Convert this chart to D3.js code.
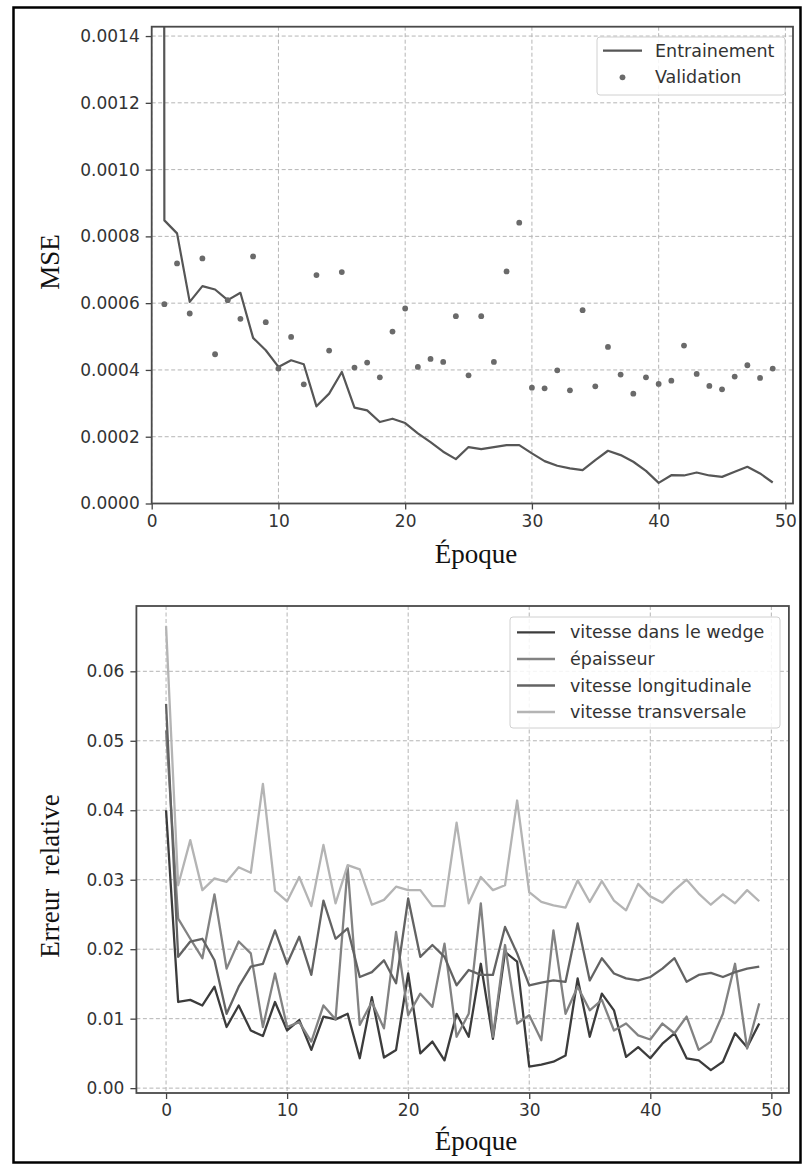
<!DOCTYPE html>
<html><head><meta charset="utf-8">
<script src="https://cdn.jsdelivr.net/npm/d3@7"></script>
<style>
body{margin:0;background:#fff;}
svg{display:block;}
.tick text{font-family:"DejaVu Sans",sans-serif;}
</style></head>
<body>
<svg id="c" width="806" height="1165"></svg>
<script>
// ---------- DATA ----------
const xTicks = [0, 10, 20, 30, 40, 50];
const mseTicks = [0, 0.0002, 0.0004, 0.0006, 0.0008, 0.0010, 0.0012, 0.0014];
const errTicks = [0, 0.01, 0.02, 0.03, 0.04, 0.05, 0.06];

// training MSE, epochs 0..49 (epoch 0 far above the axis)
const trainMSE = [0.05, 0.000848, 0.000809, 0.000604, 0.000651, 0.000641, 0.000609, 0.000631, 0.000496, 0.000459,
  0.000409, 0.000429, 0.000417, 0.000291, 0.000329, 0.000394, 0.000287, 0.000279, 0.000244, 0.000254,
  0.000241, 0.000210, 0.000184, 0.000155, 0.000133, 0.000169, 0.000163, 0.000169, 0.000175, 0.000175,
  0.000150, 0.000127, 0.000113, 0.000105, 0.000100, 0.000130, 0.000158, 0.000145, 0.000125, 0.0000977,
  0.0000617, 0.0000847, 0.000084, 0.0000928, 0.000084, 0.0000797, 0.000095, 0.00011, 0.00009, 0.0000629];
// validation MSE, epochs 1..49
const valMSE = [0.000597, 0.000719, 0.000569, 0.000734, 0.000447, 0.000609, 0.000553, 0.00074, 0.000543,
  0.000404, 0.000499, 0.000357, 0.000684, 0.000458, 0.000693, 0.000407, 0.000422, 0.000378, 0.000515,
  0.000584, 0.000409, 0.000433, 0.000424, 0.000561, 0.000384, 0.000561, 0.000424, 0.000695, 0.000841,
  0.000347, 0.000345, 0.000399, 0.000339, 0.000579, 0.000351, 0.000469, 0.000386, 0.000329, 0.000378,
  0.000358, 0.000368, 0.000473, 0.000388, 0.000352, 0.000342, 0.00038, 0.000414, 0.000376, 0.000404];

// relative errors, epochs 0..49
const errWedge = [0.040, 0.0124, 0.0127, 0.0119, 0.0146, 0.0088, 0.0119, 0.0083, 0.0075, 0.0124,
  0.0083, 0.0098, 0.0055, 0.0103, 0.0099, 0.0107, 0.0043, 0.0131, 0.0044, 0.0055,
  0.0165, 0.005, 0.0067, 0.004, 0.0107, 0.0074, 0.0179, 0.0071, 0.0196, 0.0182,
  0.0031, 0.0034, 0.0038, 0.0047, 0.0158, 0.0074, 0.0136, 0.0112, 0.0045, 0.0059,
  0.0043, 0.0064, 0.0079, 0.0043, 0.004, 0.0026, 0.0038, 0.0079, 0.0059, 0.0093];
const errEpaisseur = [0.0515, 0.0244, 0.0215, 0.0187, 0.0279, 0.0172, 0.0211, 0.0194, 0.0088, 0.0165,
  0.0088, 0.0095, 0.0067, 0.0119, 0.0099, 0.0318, 0.0091, 0.0124, 0.0086, 0.0225,
  0.0105, 0.0136, 0.0117, 0.0208, 0.0074, 0.0107, 0.0266, 0.0074, 0.0206, 0.0093,
  0.0105, 0.0069, 0.0227, 0.0107, 0.0146, 0.0112, 0.0127, 0.0083, 0.0093, 0.0076,
  0.007, 0.0093, 0.0079, 0.0103, 0.0055, 0.0067, 0.0107, 0.0179, 0.0057, 0.0122];
const errLongi = [0.0553, 0.0189, 0.0211, 0.0215, 0.0184, 0.0107, 0.0146, 0.0175, 0.0179, 0.0227,
  0.0179, 0.0218, 0.0163, 0.027, 0.0215, 0.023, 0.016, 0.0167, 0.0184, 0.0151,
  0.0273, 0.0189, 0.0206, 0.0189, 0.0148, 0.017, 0.0163, 0.0163, 0.0232, 0.0194,
  0.0148, 0.0152, 0.0155, 0.0153, 0.0237, 0.0155, 0.0187, 0.0165, 0.0158, 0.0155,
  0.016, 0.0172, 0.0187, 0.0153, 0.0163, 0.0166, 0.016, 0.0167, 0.0172, 0.0175];
const errTrans = [0.0665, 0.0292, 0.0357, 0.0285, 0.0302, 0.0297, 0.0318, 0.031, 0.0438, 0.0284,
  0.0269, 0.0304, 0.0262, 0.035, 0.0266, 0.0321, 0.0315, 0.0264, 0.0271, 0.029,
  0.0285, 0.0285, 0.0262, 0.0262, 0.0382, 0.0266, 0.0304, 0.0285, 0.0292, 0.0414,
  0.0282, 0.0268, 0.0263, 0.026, 0.0299, 0.0268, 0.0298, 0.027, 0.0256, 0.0294,
  0.0276, 0.0267, 0.0285, 0.03, 0.028, 0.0264, 0.0279, 0.0266, 0.0285, 0.0269];

const seriesNames = ["vitesse dans le wedge", "épaisseur", "vitesse longitudinale", "vitesse transversale"];
const seriesData = [errWedge, errEpaisseur, errLongi, errTrans];
const seriesColors = ["#3c3c3c", "#828282", "#636363", "#b4b4b4"];

// ---------- DRAW ----------
const svg = d3.select("#c");
const FONT_SANS = '"DejaVu Sans", sans-serif';
const FONT_SERIF = '"Liberation Serif", "Times New Roman", serif';

// outer frame
svg.append("rect").attr("x", 13.5).attr("y", 7.5).attr("width", 787).attr("height", 1155)
  .attr("fill", "none").attr("stroke", "#000").attr("stroke-width", 2.5);

function panel(opts) {
  const {x, y, xTickVals, yTickVals, yFmt, L, R, T, B, id} = opts;
  const g = svg.append("g");
  g.append("clipPath").attr("id", id).append("rect")
    .attr("x", L).attr("y", T).attr("width", R - L).attr("height", B - T);
  // grid
  const grid = g.append("g").attr("stroke", "#b5b5b5").attr("stroke-width", 1).attr("stroke-dasharray", "4,2.5");
  xTickVals.forEach(v => grid.append("line").attr("x1", x(v)).attr("x2", x(v)).attr("y1", T).attr("y2", B));
  yTickVals.forEach(v => grid.append("line").attr("y1", y(v)).attr("y2", y(v)).attr("x1", L).attr("x2", R));
  // axes
  const ax = g.append("g").attr("transform", `translate(0,${B})`)
    .call(d3.axisBottom(x).tickValues(xTickVals).tickSize(6).tickPadding(5).tickFormat(d3.format("d")));
  const ay = g.append("g").attr("transform", `translate(${L},0)`)
    .call(d3.axisLeft(y).tickValues(yTickVals).tickSize(6).tickPadding(6).tickFormat(yFmt));
  [ax, ay].forEach(a => {
    a.select(".domain").remove();
    a.selectAll(".tick line").attr("stroke", "#444").attr("stroke-width", 1.3);
    a.selectAll(".tick text").attr("fill", "#333").style("font-size", "17px").style("font-family", FONT_SANS);
  });
  const plot = g.append("g").attr("clip-path", `url(#${id})`);
  return {g, plot};
}
function frame(g, L, R, T, B) {
  g.append("rect").attr("x", L).attr("y", T).attr("width", R - L).attr("height", B - T)
    .attr("fill", "none").attr("stroke", "#4a4a4a").attr("stroke-width", 1.8);
}

// ---------- TOP CHART ----------
{
  const L = 151.7, R = 793, T = 26.7, B = 503.5;
  const x = d3.scaleLinear().domain([0, 50.6]).range([L, R]);
  const y = d3.scaleLinear().domain([0, 0.001428]).range([B, T]);
  const {g, plot} = panel({x, y, xTickVals: xTicks, yTickVals: mseTicks, yFmt: d3.format(".4f"), L, R, T, B, id: "clipTop"});
  const line = d3.line().x((d, i) => x(i)).y(d => y(d));
  plot.append("path").datum(trainMSE).attr("d", line).attr("fill", "none")
    .attr("stroke", "#565656").attr("stroke-width", 2.2).attr("stroke-linejoin", "round");
  plot.selectAll("circle.v").data(valMSE).join("circle")
    .attr("cx", (d, i) => x(i + 1)).attr("cy", d => y(d)).attr("r", 2.9).attr("fill", "#6a6a6a");
  frame(g, L, R, T, B);
  // legend
  const lg = g.append("g");
  lg.append("rect").attr("x", 597).attr("y", 37).attr("width", 188).attr("height", 58).attr("rx", 3)
    .attr("fill", "#fff").attr("fill-opacity", 0.85).attr("stroke", "#d0d0d0").attr("stroke-width", 1);
  lg.append("line").attr("x1", 603).attr("x2", 642).attr("y1", 50.7).attr("y2", 50.7)
    .attr("stroke", "#565656").attr("stroke-width", 2.2);
  lg.append("circle").attr("cx", 622.5).attr("cy", 77.3).attr("r", 2.9).attr("fill", "#6a6a6a");
  [["Entrainement", 50.7], ["Validation", 77.3]].forEach(([t, yy]) =>
    lg.append("text").attr("x", 655).attr("y", yy).attr("dy", "0.35em").text(t)
      .attr("fill", "#333").style("font-family", FONT_SANS).style("font-size", "17.5px"));
  // labels
  g.append("text").attr("x", 476).attr("y", 563).attr("text-anchor", "middle").text("Époque")
    .style("font-family", FONT_SERIF).style("font-size", "27px").attr("fill", "#111");
  g.append("text").attr("transform", "translate(59,262) rotate(-90)").attr("text-anchor", "middle").text("MSE")
    .style("font-family", FONT_SERIF).style("font-size", "27px").attr("fill", "#111");
}

// ---------- BOTTOM CHART ----------
{
  const L = 136.4, R = 788.9, T = 606, B = 1093;
  const x = d3.scaleLinear().domain([-2.45, 51.45]).range([L, R]);
  const y = d3.scaleLinear().domain([-0.0007, 0.0694]).range([B, T]);
  const {g, plot} = panel({x, y, xTickVals: xTicks, yTickVals: errTicks, yFmt: d3.format(".2f"), L, R, T, B, id: "clipBot"});
  const line = d3.line().x((d, i) => x(i)).y(d => y(d));
  seriesData.forEach((s, k) => {
    plot.append("path").datum(s).attr("d", line).attr("fill", "none")
      .attr("stroke", seriesColors[k]).attr("stroke-width", 2.3).attr("stroke-linejoin", "round");
  });
  frame(g, L, R, T, B);
  const lg = g.append("g");
  lg.append("rect").attr("x", 510).attr("y", 617).attr("width", 270).attr("height", 111).attr("rx", 3)
    .attr("fill", "#fff").attr("fill-opacity", 0.85).attr("stroke", "#d0d0d0").attr("stroke-width", 1);
  const rowY = [632.3, 659, 685.5, 712];
  seriesNames.forEach((n, k) => {
    lg.append("line").attr("x1", 517).attr("x2", 555).attr("y1", rowY[k]).attr("y2", rowY[k])
      .attr("stroke", seriesColors[k]).attr("stroke-width", 2.3);
    lg.append("text").attr("x", 570).attr("y", rowY[k]).attr("dy", "0.35em").text(n)
      .attr("fill", "#333").style("font-family", FONT_SANS).style("font-size", "17.5px");
  });
  g.append("text").attr("x", 476).attr("y", 1150).attr("text-anchor", "middle").text("Époque")
    .style("font-family", FONT_SERIF).style("font-size", "27px").attr("fill", "#111");
  g.append("text").attr("transform", "translate(59,876) rotate(-90)").attr("text-anchor", "middle")
    .attr("xml:space", "preserve").style("white-space", "pre").text("Erreur  relative")
    .style("font-family", FONT_SERIF).style("font-size", "27px").attr("fill", "#111");
}
</script>
</body></html>
